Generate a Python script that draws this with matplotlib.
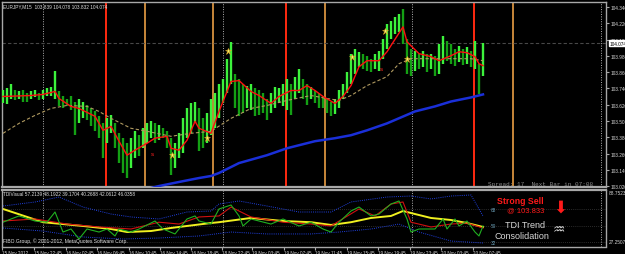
import numpy as np
import matplotlib
matplotlib.use('Agg')
import matplotlib.pyplot as plt

# EURJPY M15 bars (high / low)
bar_high = [103.725, 103.740, 103.776, 103.725, 103.718, 103.725, 103.703, 103.718, 103.732, 103.710,
            103.725, 103.740, 103.754, 103.871, 103.718, 103.688, 103.666, 103.681, 103.644, 103.666,
            103.644, 103.615, 103.593, 103.571, 103.535, 103.483, 103.520, 103.542, 103.483, 103.410,
            103.374, 103.337, 103.374, 103.425, 103.396, 103.447, 103.483, 103.498, 103.483, 103.469,
            103.447, 103.425, 103.374, 103.337, 103.410, 103.520, 103.593, 103.630, 103.644, 103.593,
            103.520, 103.557, 103.666, 103.703, 103.776, 103.813, 103.959, 104.083, 103.849, 103.813,
            103.776, 103.761, 103.776, 103.740, 103.725, 103.703, 103.666, 103.703, 103.754, 103.740,
            103.776, 103.813, 103.776, 103.827, 103.886, 103.813, 103.776, 103.754, 103.718, 103.703,
            103.688, 103.666, 103.644, 103.666, 103.725, 103.776, 103.864, 103.996, 104.032, 104.010,
            103.996, 103.981, 103.959, 103.996, 104.018, 104.105, 104.215, 104.237, 104.266, 104.288,
            104.325, 104.105, 104.032, 104.018, 103.996, 104.018, 103.996, 103.996, 103.981, 104.069,
            104.127, 104.091, 104.069, 104.032, 104.054, 104.032, 104.047, 104.018, 104.091, 103.922,
            104.078]
bar_low = [103.630, 103.622, 103.666, 103.652, 103.659, 103.637, 103.644, 103.659, 103.674, 103.652,
           103.666, 103.681, 103.688, 103.666, 103.608, 103.593, 103.608, 103.579, 103.396, 103.483,
           103.520, 103.505, 103.461, 103.425, 103.374, 103.227, 103.337, 103.410, 103.300, 103.191,
           103.118, 103.081, 103.154, 103.227, 103.242, 103.300, 103.337, 103.374, 103.337, 103.359,
           103.374, 103.300, 103.103, 103.154, 103.227, 103.264, 103.374, 103.410, 103.483, 103.278,
           103.300, 103.337, 103.396, 103.447, 103.520, 103.630, 103.703, 103.776, 103.593, 103.535,
           103.557, 103.593, 103.579, 103.535, 103.542, 103.557, 103.505, 103.557, 103.593, 103.630,
           103.608, 103.579, 103.542, 103.666, 103.703, 103.666, 103.615, 103.666, 103.630, 103.593,
           103.593, 103.557, 103.535, 103.549, 103.593, 103.666, 103.703, 103.776, 103.849, 103.900,
           103.886, 103.871, 103.864, 103.886, 103.871, 103.959, 104.032, 104.105, 104.142, 104.157,
           104.069, 103.849, 103.835, 103.871, 103.886, 103.900, 103.864, 103.886, 103.835, 103.849,
           103.922, 103.944, 103.922, 103.908, 103.937, 103.915, 103.922, 103.900, 103.886, 103.700,
           103.832]

# moving averages (bar index, price)
red_ma_idx = [0, 7, 10, 13, 14, 17, 19, 23, 25, 27, 29, 31, 33, 36, 38, 41, 42, 44, 46, 48, 49, 52, 54,
              57, 59, 62, 64, 67, 69, 72, 74, 76, 78, 80, 83, 85, 87, 89, 91, 94, 96, 100, 101, 104,
              107, 109, 112, 114, 116, 118, 119, 120]
red_ma = [103.681, 103.688, 103.696, 103.718, 103.666, 103.608, 103.593, 103.535, 103.432, 103.461,
          103.352, 103.249, 103.286, 103.337, 103.374, 103.388, 103.300, 103.286, 103.359, 103.498,
          103.447, 103.410, 103.571, 103.791, 103.798, 103.718, 103.688, 103.630, 103.681, 103.725,
          103.725, 103.761, 103.725, 103.681, 103.630, 103.681, 103.761, 103.900, 103.944, 103.944,
          104.010, 104.193, 104.083, 103.996, 103.974, 103.944, 103.981, 104.010, 104.003, 103.974,
          103.922, 103.908]
tan_ma_idx = [0, 4, 8, 12, 16, 21, 24, 27, 32, 36, 42, 47, 52, 57, 62, 66, 71, 77, 81, 84, 87, 91, 96,
              99, 102, 112, 117, 120]
tan_ma = [103.410, 103.483, 103.542, 103.593, 103.615, 103.608, 103.571, 103.520, 103.447, 103.425,
          103.388, 103.410, 103.425, 103.520, 103.593, 103.615, 103.652, 103.688, 103.666, 103.652,
          103.688, 103.761, 103.827, 103.922, 103.959, 103.959, 103.959, 103.944]
blue_ma_idx = [36, 39, 44, 49, 52, 54, 59, 66, 71, 78, 83, 87, 91, 96, 103, 108, 112, 117, 120]
blue_ma = [103.000, 103.022, 103.052, 103.081, 103.096, 103.118, 103.191, 103.249, 103.300, 103.352,
           103.374, 103.396, 103.432, 103.483, 103.571, 103.608, 103.644, 103.674, 103.696]

star_idx = [42.25, 51, 56.25, 87.25, 95.5, 101]
star_px = [103.249, 103.374, 104.018, 103.974, 104.164, 103.959]
sig_idx = [37.25, 94.5]
sig_px = [103.264, 103.886]

red_lines = [25.75, 70.75, 117.75]
tan_lines = [35.5, 52.5, 80.5, 127.5]
day_lines = [10, 55, 102.25, 149.4]
last_price = 104.074
price_ticks = [104.340, 104.220, 104.100, 103.980, 103.860, 103.740, 103.620,
               103.500, 103.380, 103.260, 103.140, 103.020]

# TDI
rsi_idx = [0, 2, 4, 8, 11, 13, 15, 17, 19, 21, 24, 26, 28, 29, 32, 34, 38, 40, 43, 46, 48, 49, 52,
           54, 57, 59, 60, 62, 64, 67, 70, 74, 77, 80, 82, 84, 87, 89, 92, 94, 97, 99, 101, 102,
           104, 108, 110, 111, 113, 114, 116, 118, 119, 120]
rsi = [53.7, 57.2, 60.5, 55.0, 53.7, 64.8, 43.0, 46.3, 35.4, 46.3, 43.0, 46.3, 38.7, 46.3, 43.0,
       46.3, 55.0, 46.3, 40.9, 57.2, 60.5, 55.0, 51.7, 68.1, 72.4, 60.5, 49.6, 57.2, 55.0, 51.7,
       57.2, 49.6, 53.7, 46.3, 43.0, 53.7, 65.9, 70.2, 60.5, 62.6, 73.5, 76.8, 57.2, 43.0, 46.3,
       46.3, 57.2, 46.3, 57.2, 49.6, 55.0, 43.0, 38.7, 49.6]
signal_idx = [0, 8, 16, 24, 32, 39, 44, 49, 54, 57, 62, 70, 77, 82, 89, 93, 97, 100, 102, 107, 112,
              116, 120]
signal = [55.0, 57.2, 51.7, 48.5, 46.3, 53.7, 51.7, 59.4, 60.5, 70.2, 59.4, 53.7, 51.7, 49.6, 68.1,
          60.5, 73.5, 75.7, 53.7, 48.5, 51.7, 52.8, 47.4]
base_idx = [0, 10, 20, 27, 31, 37, 42, 46, 52, 54, 62, 70, 77, 82, 87, 92, 97, 100, 103, 107, 112,
            116, 120]
base = [68.1, 53.7, 49.6, 46.3, 43.0, 44.1, 47.4, 49.6, 52.8, 53.7, 58.3, 55.0, 53.7, 50.7, 53.7,
        58.3, 60.5, 65.9, 62.6, 58.3, 56.1, 52.8, 48.5]
up_idx = [0, 8, 14, 20, 27, 32, 39, 46, 52, 54, 59, 66, 74, 82, 87, 96, 102, 107, 112, 117, 119, 120]
up_band = [71.3, 75.7, 81.1, 70.2, 62.6, 59.4, 57.2, 64.8, 65.9, 73.5, 76.8, 71.3, 64.8, 64.8, 75.7,
           81.1, 82.2, 79.0, 82.2, 83.3, 68.1, 60.5]
lo_idx = [0, 10, 20, 30, 39, 49, 57, 66, 77, 84, 92, 99, 104, 112, 120]
lo_band = [47.4, 44.1, 37.6, 35.4, 36.5, 38.7, 43.0, 40.9, 40.9, 43.0, 46.3, 51.7, 43.0, 33.2, 31.1]
levels = [68, 50, 32]

time_idx = [-0.25, 7.75, 15.75, 23.5, 31.5, 39.25, 47, 54.75, 62.25, 70.25, 78, 86, 93.75,
            101.75, 109.5, 117.5]
time_lbl = ['15 Nov 2012', '15 Nov 22:45', '16 Nov 02:45', '16 Nov 06:45', '16 Nov 10:45',
            '16 Nov 14:45', '16 Nov 18:45', '18 Nov 22:45', '19 Nov 03:45', '19 Nov 07:45',
            '19 Nov 11:45', '19 Nov 15:45', '19 Nov 19:45', '19 Nov 23:45', '20 Nov 03:45',
            '20 Nov 07:45']

W, H = 625, 255
fig = plt.figure(figsize=(6.25, 2.55), dpi=100, facecolor='black')
plt.rcParams['font.family'] = ['Liberation Sans', 'DejaVu Sans']

def px(x0, y0, x1, y1):
    return [x0 / W, 1 - y1 / H, (x1 - x0) / W, (y1 - y0) / H]

ax = fig.add_axes(px(2, 3, 606, 188))
ax2 = fig.add_axes(px(2, 191, 606, 247.5))
grey = '#a8a8a8'
for a in (ax, ax2):
    a.set_facecolor('black')
    for s in a.spines.values():
        s.set_color(grey)
        s.set_linewidth(1)
    a.set_xlim(-0.25, 150.75)
ax2.spines['top'].set_linewidth(1.6)
ax.spines['bottom'].set_linewidth(1.6)

# main chart
ax.set_ylim(103.015, 104.376)
for v in day_lines:
    ax.axvline(v, color='#b0b0b0', lw=0.7, ls=(0, (1, 1.5)))
    ax2.axvline(v, color='#b0b0b0', lw=0.7, ls=(0, (1, 1.5)))
for v in red_lines:
    ax.axvline(v, color='#ff2a10', lw=1.4)
for v in tan_lines:
    ax.axvline(v, color='#c8873a', lw=1.4)
ax.axhline(last_price, color='#484848', lw=0.8, ls=(0, (3, 2)))

hi = np.array(bar_high)
lo = np.array(bar_low)
mid = (hi + lo) / 2
up = np.r_[True, mid[1:] >= mid[:-1]]
cols = np.where(up, '#3cf23c', '#14a014')
ax.vlines(np.arange(len(hi)), lo, hi, colors=cols, lw=1.7, zorder=3)

ax.plot(tan_ma_idx, tan_ma, color='#b09a60', lw=0.8, ls=(0, (3, 2)), zorder=4)
ax.plot(red_ma_idx, red_ma, color='#ff1010', lw=1.0, zorder=5)
ax.plot(blue_ma_idx, blue_ma, color='#1a2fd8', lw=1.8, zorder=5)
ax.plot(star_idx, star_px, ls='none', marker='*', ms=5, mfc='#f4f070', mec='#d8a020', mew=0.4, zorder=6)
for xi, yi in zip(sig_idx, sig_px):
    ax.text(xi, yi, 's', color='#ff2020', fontsize=4.5, ha='center', va='center', zorder=6)

ax.set_xticks([])
ax.yaxis.tick_right()
ax.set_yticks(price_ticks)
ax.set_yticklabels(['%.3f' % t for t in price_ticks])
ax.tick_params(axis='y', colors=grey, labelcolor='#d8d8d8', labelsize=3.4, length=2, pad=1)
ax.text(1.0065, (last_price - 103.015) / (104.376 - 103.015), '%.3f' % last_price,
        transform=ax.transAxes, fontsize=3.4, color='black', va='center', ha='left',
        bbox=dict(boxstyle='square,pad=0.15', fc='white', ec='white'))

fig.text(3 / W, 1 - 6.5 / H, 'EURJPY,M15  103.839 104.078 103.832 104.074', color='#e0e0e0',
         fontsize=3.4, va='center', ha='left')
fig.text(488 / W, 1 - 184.5 / H, 'Spread: 17  Next Bar in 07:08', color='#8a8a8a',
         fontsize=4.3, va='center', ha='left', family='Liberation Mono')

# TDI panel
ax2.set_ylim(27.25, 88.75)
for lv in levels:
    ax2.axhline(lv, color='#3a3a3a', lw=0.6, ls=(0, (1, 1.5)))
ax2.plot(up_idx, up_band, color='#2040e0', lw=0.7, ls=(0, (1, 1.2)))
ax2.plot(lo_idx, lo_band, color='#2040e0', lw=0.7, ls=(0, (1, 1.2)))
ax2.plot(base_idx, base, color='#f0f020', lw=1.4)
ax2.plot(signal_idx, signal, color='#d01010', lw=0.8)
ax2.plot(rsi_idx, rsi, color='#20b020', lw=0.8)
for lv in levels:
    ax2.text(122, lv, str(lv), color='#6aa0b8', fontsize=3.4, va='center', ha='left')

ax2.set_yticks([])
ax2.set_xticks(time_idx)
ax2.set_xticklabels(time_lbl)
ax2.tick_params(axis='x', colors=grey, labelcolor='#d8d8d8', labelsize=3.3, length=2.5, pad=0.3)
for t in ax2.get_xticklabels():
    t.set_ha('left')

fig.text(3 / W, 1 - 195 / H, 'TDIVisual 57.2139 48.1922 39.1704 40.2688 42.0612 46.0358',
         color='#e0e0e0', fontsize=3.4, va='center', ha='left')
fig.text(3 / W, 1 - 241.5 / H, 'FIBO Group, \u00a9 2001-2012, MetaQuotes Software Corp.',
         color='#e0e0e0', fontsize=3.6, va='center', ha='left')
fig.text(609 / W, 1 - 193.5 / H, '88.7523', color='#d8d8d8', fontsize=3.4, va='center', ha='left')
fig.text(609 / W, 1 - 243 / H, '27.2507', color='#d8d8d8', fontsize=3.4, va='center', ha='left')

fig.text(520 / W, 1 - 202 / H, 'Strong Sell', color='#ff1a1a', fontsize=6.3, fontweight='bold',
         va='center', ha='center')
fig.text(526 / W, 1 - 210.5 / H, '@ 103.833', color='#ff1a1a', fontsize=5.5, va='center', ha='center')
fig.text(560 / W, 1 - 208 / H, '\u2b07', color='#ff1a1a', fontsize=12, va='center', ha='center',
         family='DejaVu Sans')
fig.text(525 / W, 1 - 226 / H, 'TDI Trend', color='#d8d8d8', fontsize=6.5, va='center', ha='center')
fig.text(522 / W, 1 - 237 / H, 'Consolidation', color='#d8d8d8', fontsize=6.5, va='center', ha='center')
fig.text(559 / W, 1 - 229 / H, '\u2652', color='#d8d8d8', fontsize=10, va='center', ha='center',
         family='DejaVu Sans')

fig.savefig('out.png', dpi=100, facecolor='black')
